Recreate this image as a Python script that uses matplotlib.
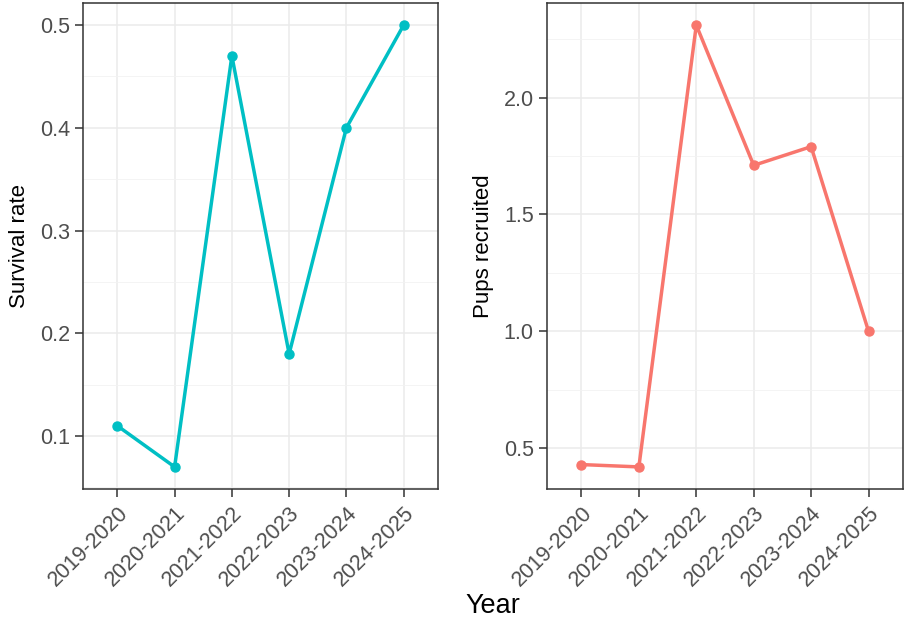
import numpy as np
import matplotlib.pyplot as plt
from matplotlib.ticker import MultipleLocator

plt.rcParams['font.family'] = ['Liberation Sans', 'DejaVu Sans']

# data
years = ['2019-2020', '2020-2021', '2021-2022', '2022-2023', '2023-2024', '2024-2025']
survival = [0.11, 0.07, 0.47, 0.18, 0.40, 0.50]
pups = [0.43, 0.42, 2.31, 1.71, 1.79, 1.00]

fig = plt.figure(figsize=(9.05, 6.23), dpi=100)
W, H = 905, 623


def panel(px_left, px_right, px_top, px_bottom):
    return fig.add_axes([px_left / W, 1 - px_bottom / H,
                         (px_right - px_left) / W, (px_bottom - px_top) / H])


def style(ax, vals, color, ylabel, major, minor):
    x = np.arange(len(years))
    ax.plot(x, vals, color=color, lw=2.5, marker='o', ms=6.5, zorder=3)
    ax.set_xticks(x)
    ax.set_xticklabels(years, rotation=45, ha='right', rotation_mode='anchor')
    ax.set_xlim(-0.6, len(years) - 0.4)
    lo, hi = min(vals), max(vals)
    pad = (hi - lo) * 0.05
    ax.set_ylim(lo - pad, hi + pad)
    ax.yaxis.set_major_locator(MultipleLocator(major))
    ax.yaxis.set_minor_locator(MultipleLocator(minor))
    ax.grid(which='major', color='#EBEBEB', lw=1.1, zorder=0)
    ax.grid(which='minor', axis='y', color='#F2F2F2', lw=0.6, zorder=0)
    ax.tick_params(which='minor', length=0)
    ax.tick_params(which='major', length=5.5, width=1.1, color='#333333',
                   labelcolor='#4D4D4D', labelsize=15.5, pad=4)
    for s in ax.spines.values():
        s.set_color('#333333')
        s.set_linewidth(1.1)
    ax.set_ylabel(ylabel, fontsize=16, color='black', labelpad=7)
    ax.set_axisbelow(True)


ax1 = panel(83, 438, 3, 489)
style(ax1, survival, '#00BFC4', 'Survival rate', 0.1, 0.05)
ax1.yaxis.set_major_formatter(plt.FuncFormatter(lambda v, p: f'{v:.1f}'))

ax2 = panel(547, 903, 3, 489)
style(ax2, pups, '#F8766D', 'Pups recruited', 0.5, 0.25)
ax2.yaxis.set_major_formatter(plt.FuncFormatter(lambda v, p: f'{v:.1f}'))

fig.text(493 / W, 1 - 606 / H, 'Year', ha='center', va='center', fontsize=19.5)

fig.savefig('out.png', dpi=100)
